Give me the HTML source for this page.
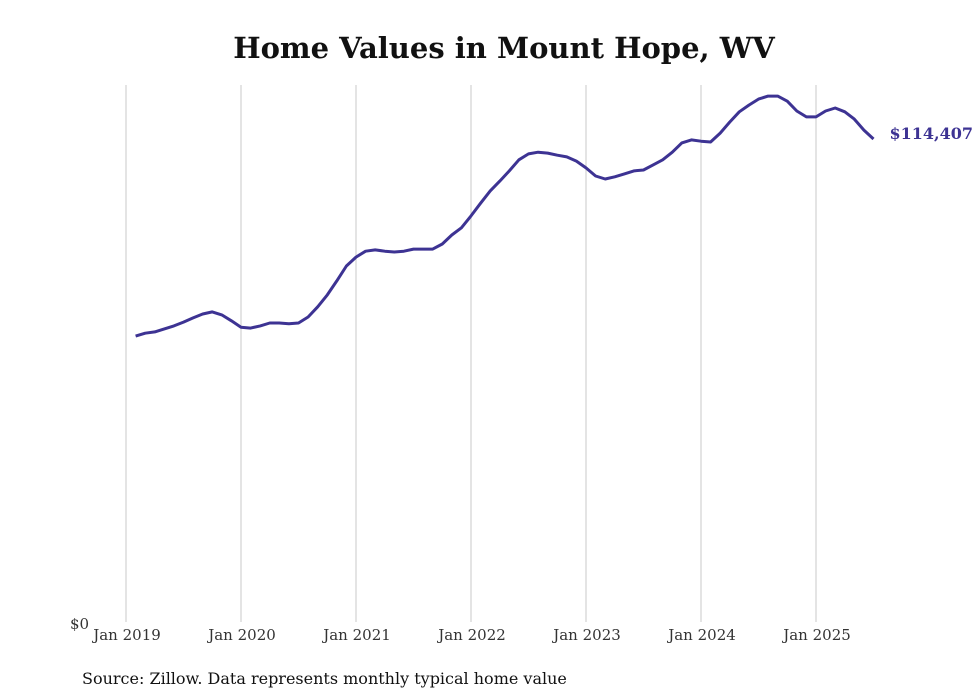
<!DOCTYPE html>
<html><head><meta charset="utf-8"><style>
body{margin:0;background:#fff}
svg{display:block;font-family:"DejaVu Serif","Liberation Serif",serif}
</style></head><body>
<svg width="980" height="699">
<text x="504" y="58" text-anchor="middle" font-size="29" font-weight="bold" fill="#111">Home Values in Mount Hope, WV</text>
<g id="grid"></g>
<g id="xlabels"></g>
<text x="70" y="629" font-size="15" fill="#333">$0</text>
<path id="line" fill="none" stroke="#3d3393" stroke-width="3" stroke-linejoin="round"></path>
<text id="endlabel" font-size="16" font-weight="bold" fill="#3d3393"></text>
<text x="82" y="684" font-size="16" fill="#111">Source: Zillow. Data represents monthly typical home value</text>
</svg>
<script>
const tickLabels=["Jan 2019","Jan 2020","Jan 2021","Jan 2022","Jan 2023","Jan 2024","Jan 2025"];
const startMonth=1; // Feb 2019, months since Jan 2019
const values=[68000,68700,69000,69700,70400,71300,72300,73200,73700,73000,71600,70100,
69900,70400,71100,71100,70900,71100,72500,74900,77700,81000,84500,86600,
88000,88300,88000,87800,88000,88500,88500,88500,89700,91800,93500,96300,
99300,102200,104500,106900,109500,110900,111300,111100,110600,110200,109200,107600,
105700,105000,105500,106200,106900,107100,108300,109500,111300,113500,114200,113900,
113700,115800,118400,120800,122400,123800,124500,124500,123300,121000,119600,119600,
121000,121700,120800,119100,116500,114407];
const NS="http://www.w3.org/2000/svg";
const x=m=>126+m*(690/72);
const y=v=>625-v/127120*540;
const grid=document.getElementById('grid'),xl=document.getElementById('xlabels');
tickLabels.forEach((t,i)=>{
 const l=document.createElementNS(NS,'line');
 
 
 l.setAttribute('x1',x(i*12));l.setAttribute('x2',x(i*12));
 l.setAttribute('y1',85);l.setAttribute('y2',622);
 l.setAttribute('stroke','#c8c8c8');l.setAttribute('stroke-width','1');
 grid.appendChild(l);
 const tx=document.createElementNS(NS,'text');
 
 
 tx.setAttribute('x',x(i*12)+1);tx.setAttribute('y',640);
 tx.setAttribute('text-anchor','middle');tx.setAttribute('font-size','15');tx.setAttribute('fill','#333');
 tx.textContent=t;xl.appendChild(tx);
});
let d='';
values.forEach((v,i)=>{d+=(i?'L':'M')+x(startMonth+i).toFixed(1)+','+y(v).toFixed(1);});
document.getElementById('line').setAttribute('d',d);
const last=values[values.length-1],el=document.getElementById('endlabel');
el.setAttribute('x',x(startMonth+values.length-1)+16);
el.setAttribute('y',y(last)+0);
el.textContent='$'+last.toLocaleString('en-US');
</script>
</body></html>
